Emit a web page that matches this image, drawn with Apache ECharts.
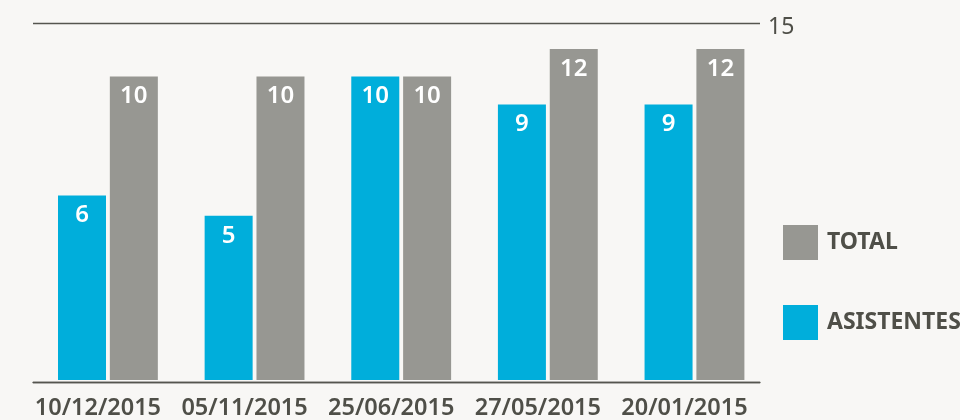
<!DOCTYPE html>
<html>
<head>
<meta charset="utf-8">
<script src="https://cdn.jsdelivr.net/npm/echarts@6/dist/echarts.min.js"></script>
<style>
  html, body { margin: 0; padding: 0; background: #f8f7f5; }
  #chart { width: 960px; height: 420px; }
</style>
</head>
<body>
<div id="chart"></div>
<script>
// fechas de las reuniones
var fechas = ['10/12/2015', '05/11/2015', '25/06/2015', '27/05/2015', '20/01/2015'];
// valores mostrados en las barras
var asistentes = [6, 5, 10, 9, 9];
var total = [10, 10, 10, 12, 12];
// alto de cada barra (escala 0-15, el original no va a escala)
var asistentesAltura = [7.76, 6.91, 12.76, 11.59, 11.59];
var totalAltura = [12.76, 12.76, 12.76, 13.92, 13.92];
var maxEje = 15;

var azul = '#00aedb';
var gris = '#979792';
var texto = '#4f4f48';
var fuente = '"Noto Sans", "Open Sans", sans-serif';

var myChart = echarts.init(document.getElementById('chart'));

function etiqueta(valores) {
	return {
		show: true,
		position: 'insideTop',
		distance: 8,
		color: '#ffffff',
		fontFamily: fuente,
		fontSize: 24,
		fontWeight: 600,
		formatter: function (p) { return valores[p.dataIndex]; }
	};
}

var option = {
	backgroundColor: '#f8f7f5',
	animation: false,
	grid: [
		{ left: 34.6, right: 192.2, top: 23.3, bottom: 37.5 },
		{ left: 33, right: 200, top: 23.3, bottom: 37.5 }
	],
	xAxis: [
		{
			type: 'category',
			gridIndex: 0,
			data: fechas,
			axisLine: { show: false },
			axisTick: { show: false },
			axisLabel: {
				interval: 0,
				margin: 14,
				formatter: function (v) { return '{f|' + v + '}'; },
				rich: {
					f: {
						color: texto,
						fontFamily: fuente,
						fontSize: 23.5,
						fontWeight: 600,
						padding: [2, 20, 0, 0]
					}
				}
			}
		},
		{
			type: 'value',
			gridIndex: 1,
			min: 0,
			max: 1,
			axisLine: { show: true, lineStyle: { color: '#55554f', width: 1.3 } },
			axisTick: { show: false },
			axisLabel: { show: false },
			splitLine: { show: false }
		}
	],
	yAxis: [
		{
			type: 'value',
			gridIndex: 0,
			min: 0,
			max: maxEje,
			show: false
		},
		{
			type: 'value',
			gridIndex: 1,
			position: 'right',
			min: 0,
			max: maxEje,
			interval: maxEje,
			axisLine: { show: false },
			axisTick: { show: false },
			splitLine: { show: true, lineStyle: { color: '#55554f', width: 1.3 } },
			axisLabel: {
				margin: 8,
				formatter: function (v) { return v === maxEje ? '{n|' + v + '}' : ''; },
				rich: {
					n: {
						color: texto,
						fontFamily: fuente,
						fontSize: 23,
						padding: [8, 0, 0, 0]
					}
				}
			}
		}
	],
	legend: {
		orient: 'vertical',
		left: 783,
		top: 225,
		padding: 0,
		itemWidth: 35,
		itemHeight: 35,
		itemGap: 45,
		icon: 'rect',
		data: ['TOTAL', 'ASISTENTES'],
		textStyle: {
			color: texto,
			fontFamily: fuente,
			fontSize: 23,
			fontWeight: 'bold',
			padding: [0, 0, 0, 4]
		}
	},
	series: [
		{
			name: 'ASISTENTES',
			type: 'bar',
			xAxisIndex: 0,
			yAxisIndex: 0,
			barWidth: 48,
			barGap: '8%',
			itemStyle: { color: azul },
			label: etiqueta(asistentes),
			data: asistentesAltura
		},
		{
			name: 'TOTAL',
			type: 'bar',
			xAxisIndex: 0,
			yAxisIndex: 0,
			barWidth: 48,
			barGap: '8%',
			itemStyle: { color: gris },
			label: etiqueta(total),
			data: totalAltura
		}
	]
};

myChart.setOption(option);
</script>
</body>
</html>
